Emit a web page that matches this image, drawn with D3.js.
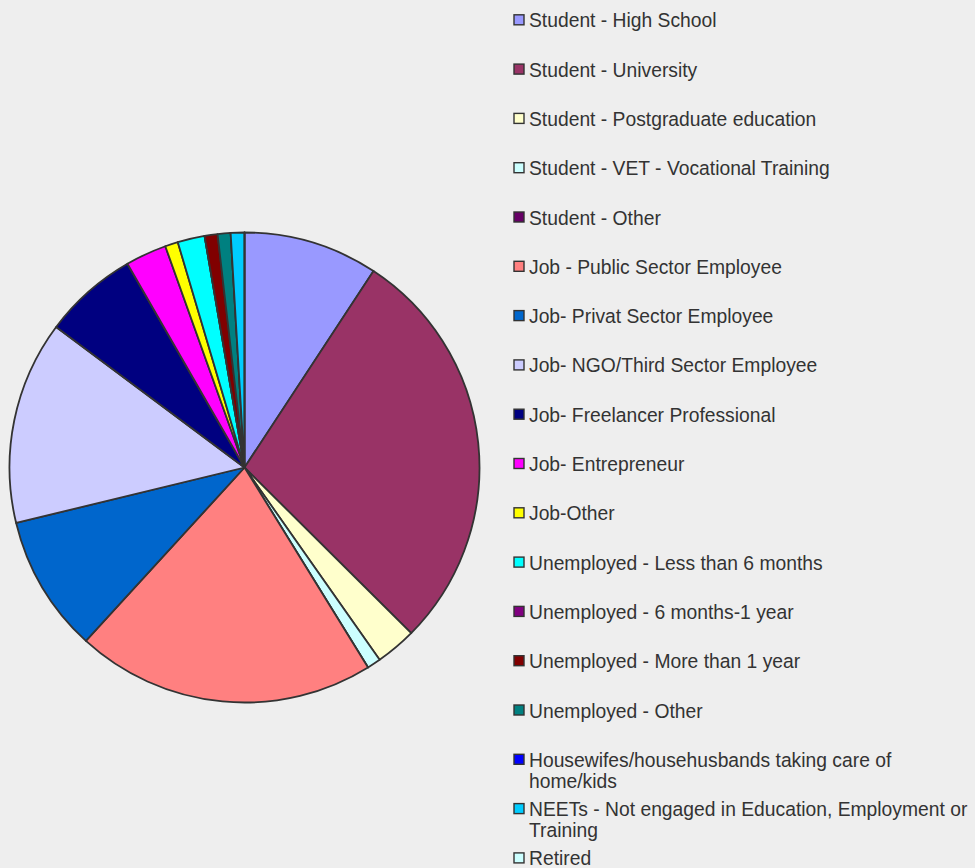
<!DOCTYPE html>
<html>
<head>
<meta charset="utf-8">
<script src="https://cdn.jsdelivr.net/npm/d3@7"></script>
<style>
  html, body { margin: 0; padding: 0; background: #eeeeee; }
  #chart { width: 975px; height: 868px; }
</style>
</head>
<body>
<div id="chart"></div>
<script>
// Categories, in legend order (pie goes clockwise from 12 o'clock)
const categories = [
    "Student - High School",
    "Student - University",
    "Student - Postgraduate education",
    "Student - VET - Vocational Training",
    "Student - Other",
    "Job - Public Sector Employee",
    "Job- Privat Sector Employee",
    "Job- NGO/Third Sector Employee",
    "Job- Freelancer Professional",
    "Job- Entrepreneur",
    "Job-Other",
    "Unemployed - Less than 6 months",
    "Unemployed - 6 months-1 year",
    "Unemployed - More than 1 year",
    "Unemployed - Other",
    "Housewifes/househusbands taking care of home/kids",
    "NEETs - Not engaged in Education, Employment or Training",
    "Retired"
];

// Share of respondents (%)
const values = [9.25, 28.2, 2.8, 0.94, 0, 20.6, 9.42, 13.99, 6.5, 2.83, 0.89, 1.86, 0, 0.89, 0.89, 0, 0.94, 0];

const colors = [
    "#9999ff", "#993366", "#ffffcc", "#ccffff", "#660066", "#ff8080",
    "#0066cc", "#ccccff", "#000080", "#ff00ff", "#ffff00", "#00ffff",
    "#800080", "#800000", "#008080", "#0000ff", "#00ccff", "#ccffff"
];

const width = 975;
const height = 868;
const cx = 244.5, cy = 467.5, radius = 235;

const svg = d3.select("#chart")
    .append("svg")
    .attr("width", width)
    .attr("height", height);

const data = categories.map((c, i) => ({ name: c, value: values[i], color: colors[i] }));

// Pie, no sorting so slices keep legend order
const pie = d3.pie()
    .value(d => d.value)
    .sort(null);

const arc = d3.arc()
    .innerRadius(0)
    .outerRadius(radius);

const g = svg.append("g")
    .attr("transform", `translate(${cx},${cy})`);

g.selectAll("path")
    .data(pie(data))
    .enter()
    .append("path")
    .attr("d", arc)
    .attr("fill", d => d.data.color)
    .attr("stroke", "#333333")
    .attr("stroke-width", 1.8)
    .attr("stroke-linejoin", "round");

// Legend
const legendX = 514;
const firstBaseline = 27.3;
const rowStep = 49.3;
const maxTextWidth = 448;

const legend = svg.append("g")
    .attr("font-family", "'Liberation Sans', Arial, sans-serif")
    .attr("font-size", 19.3)
    .attr("fill", "#333333");

data.forEach((d, i) => {
    const base = firstBaseline + i * rowStep;
    legend.append("rect")
        .attr("x", legendX)
        .attr("y", base - 12.5)
        .attr("width", 10)
        .attr("height", 10)
        .attr("fill", d.color)
        .attr("stroke", "#333333")
        .attr("stroke-width", 1.4);

    const text = legend.append("text")
        .attr("x", legendX + 15)
        .attr("y", base);

    // wrap long labels on word boundaries
    const words = d.name.split(" ");
    let line = [];
    let tspan = text.append("tspan").attr("x", legendX + 15).attr("y", base);
    let lineNo = 0;
    words.forEach(w => {
        line.push(w);
        tspan.text(line.join(" "));
        if (tspan.node().getComputedTextLength() > maxTextWidth && line.length > 1) {
            line.pop();
            tspan.text(line.join(" "));
            line = [w];
            lineNo++;
            tspan = text.append("tspan")
                .attr("x", legendX + 15)
                .attr("y", base + lineNo * 21)
                .text(w);
        }
    });
});
</script>
</body>
</html>
